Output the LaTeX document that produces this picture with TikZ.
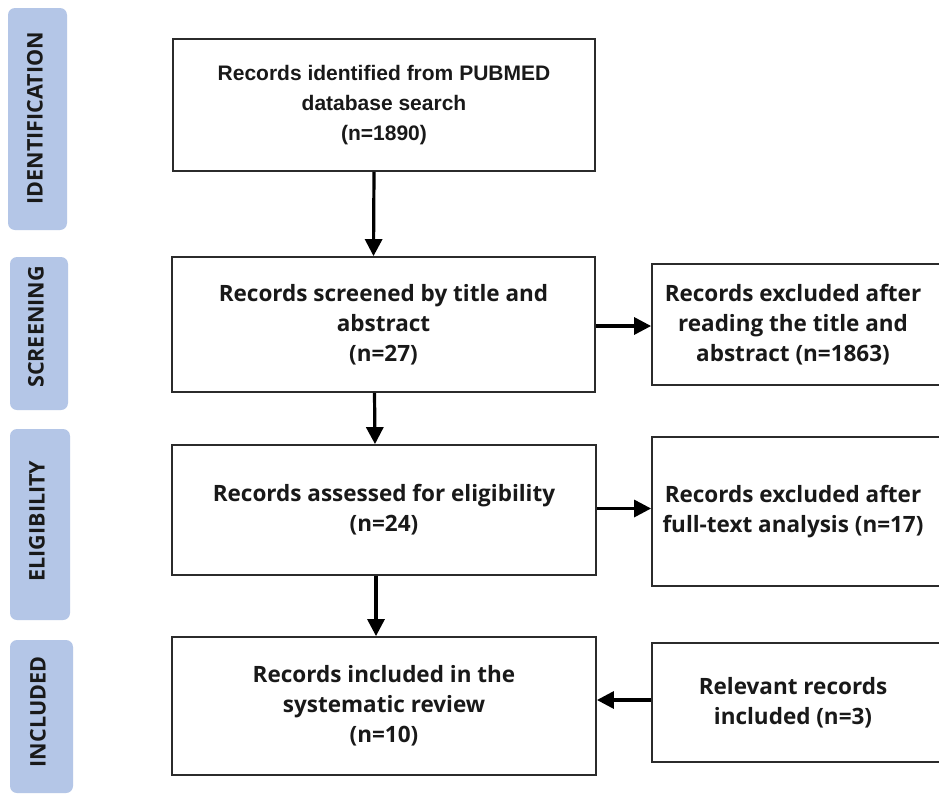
\documentclass[tikz,border=0pt]{standalone}
\usepackage{fontspec}
\setmainfont{Open Sans}
\newfontfamily\arialfont{Liberation Sans}
\usetikzlibrary{arrows.meta}
\definecolor{barblue}{HTML}{B4C6E7}
\definecolor{boxline}{HTML}{2B2B2B}
\tikzset{
  phasebar/.style={fill=barblue, draw=none, rounded corners=7pt, inner sep=0pt},
  phaselabel/.style={rotate=90, font=\fontsize{21.5}{24}\selectfont\bfseries, text=black!90},
  flowbox/.style={draw=boxline, line width=1.8pt, rectangle, inner sep=0pt, align=center,
     font=\fontsize{22.5}{30}\selectfont\bfseries, text=black!90},
  arr/.style={-{Triangle[length=17pt,width=17pt]}, line width=3.2pt, black}
}
\begin{document}
\begin{tikzpicture}[x=1pt,y=-1pt]
\useasboundingbox (0,0) rectangle (939,795);
\fill[white] (0,0) rectangle (939,795);
% phase bars
\node[phasebar, minimum width=59pt, minimum height=222pt] (pb1) at (37.5,119) {};
\node[phaselabel] (pl1) at (35,118) {IDENTIFICATION};
\node[phasebar, minimum width=58pt, minimum height=153pt] (pb2) at (39,333.5) {};
\node[phaselabel] (pl2) at (36,327) {SCREENING};
\node[phasebar, minimum width=60pt, minimum height=191pt] (pb3) at (40,524.5) {};
\node[phaselabel] (pl3) at (37,521) {ELIGIBILITY};
\node[phasebar, minimum width=63pt, minimum height=153pt] (pb4) at (41.5,716.5) {};
\node[phaselabel] (pl4) at (38,712) {INCLUDED};
% main boxes
\node[flowbox, minimum width=422pt, minimum height=132pt, font=\arialfont\fontsize{21}{30}\selectfont\bfseries] (b1) at (384,105)
  {Records identified from PUBMED\\database search\\(n=1890)};
\node[flowbox, minimum width=423pt, minimum height=135pt] (b2) at (383.5,324.5)
  {Records screened by title and\\abstract\\(n=27)};
\node[flowbox, minimum width=424pt, minimum height=130pt] (b3) at (384,510)
  {Records assessed for eligibility\\(n=24)};
\node[flowbox, minimum width=424pt, minimum height=138pt] (b4) at (384,706)
  {Records included in the\\systematic review\\(n=10)};
% right boxes
\node[flowbox, minimum width=290pt, minimum height=121pt] (r1) at (797,324.5)
  {\hspace*{-8pt}Records excluded after\\\hspace*{-8pt}reading the title and\\\hspace*{-8pt}abstract (n=1863)};
\node[flowbox, minimum width=290pt, minimum height=149pt] (r2) at (797,511.5)
  {\hspace*{-8pt}Records excluded after\\\hspace*{-8pt}full-text analysis (n=17)};
\node[flowbox, minimum width=290pt, minimum height=119pt] (r3) at (797,702.5)
  {\hspace*{-8pt}Relevant records\\\hspace*{-8pt}included (n=3)};
% arrows
\draw[arr] ([xshift=-10pt]b1.south) -- ([xshift=-10pt]b2.north);
\draw[arr] ([xshift=-9pt]b2.south) -- ([xshift=-9pt]b3.north);
\draw[arr] ([xshift=-8pt]b3.south) -- ([xshift=-8pt]b4.north);
\draw[arr] ([yshift=-1.5pt]b2.east) -- ([yshift=-1.5pt]b2.east -| r1.west);
\draw[arr] ([yshift=1.5pt]b3.east) -- ([yshift=1.5pt]b3.east -| r2.west);
\draw[arr] ([yshift=2.5pt]r3.west) -- ([yshift=2.5pt]r3.west -| b4.east);
\end{tikzpicture}
\end{document}
